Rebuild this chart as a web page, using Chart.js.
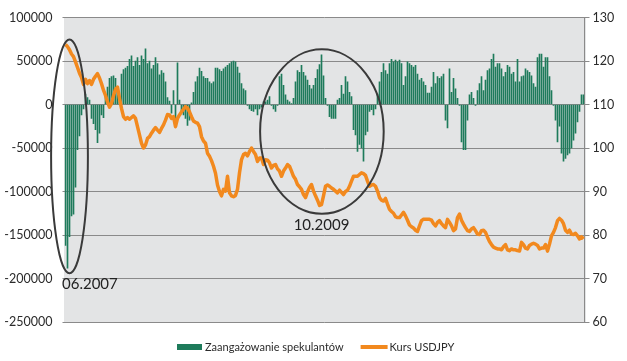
<!DOCTYPE html>
<html>
<head>
<meta charset="utf-8">
<script src="https://cdn.jsdelivr.net/npm/chart.js@4.4.1/dist/chart.umd.min.js"></script>
<style>
  html, body { margin: 0; padding: 0; background: #ffffff; }
  canvas { display: block; }
</style>
</head>
<body>
<canvas id="c" width="627" height="361"></canvas>
<script>
// ---- DATA ----
const startDate = new Date(Date.UTC(2007, 5, 8));
const categories = Array.from({ length: 260 }, (_, i) => {
  const d = new Date(startDate.getTime() + i * 7 * 86400000);
  return d.toISOString().slice(0, 10);
});

const speculators = [
  -162000, -188000, -152000, -128000, -126000, -95000, -52000, -36000, -12000, -5000,
  12000, 8000, 5000, -16000, -22000, -29000, -44000, -33000, -12000, -15000,
  10000, 20000, 30000, 32000, 33000, 30000, 20000, 3000, 35000, 40000,
  42000, 44000, 52000, 56000, 44000, 50000, 54000, 45000, 56000, 52000,
  64000, 47000, 50000, 41000, 45000, 54000, 47000, 34000, 39000, 36000,
  26000, 8000, 4000, -10000, 16000, -18000, 48000, 5000, -8000, -12000,
  -16000, -24000, -18000, 2000, 14000, 26000, 32000, 42000, 38000, 32000,
  30000, 30000, 26000, 24000, 26000, 42000, 42000, 40000, 38000, 41000,
  43000, 45000, 47000, 49000, 50000, 49000, 43000, 36000, 24000, 18000,
  16000, -1000, -5000, -7000, -8000, -5000, -12000, -5000, -3000, 3000,
  3000, 5000, 9000, -1000, -5000, -8000, -1000, 32000, 35000, 22000,
  11000, 5000, 3000, 1000, 7000, 26000, 39000, 37000, 45000, 37000,
  33000, 28000, 22000, 18000, 22000, 30000, 40000, 46000, 57000, 33000,
  7000, -1000, -14000, -16000, -16000, -16000, 5000, 7000, 22000, 12000,
  32000, 26000, 14000, 9000, -29000, -35000, -54000, -46000, -50000, -65000,
  -35000, -31000, -8000, -6000, -12000, -5000, 12000, 26000, 37000, 47000,
  39000, 35000, 47000, 52000, 49000, 51000, 49000, 51000, 47000, 22000,
  32000, 49000, 47000, 45000, 43000, 45000, 35000, 28000, 30000, 26000,
  22000, 13000, 13000, 20000, 37000, 24000, 32000, 30000, 32000, 35000,
  -18000, -27000, 41000, 14000, 30000, 18000, 7000, -1000, -43000, -52000,
  -52000, -18000, 11000, 14000, 7000, -1000, 16000, 24000, 32000, 16000,
  28000, 39000, 41000, 52000, 58000, 43000, 47000, 47000, 41000, 32000,
  37000, 45000, 43000, 35000, 37000, 26000, 52000, 26000, 32000, 33000,
  41000, 39000, 37000, 33000, 24000, 20000, 54000, 58000, 58000, 43000,
  54000, 54000, 32000, 16000, -1000, -18000, -43000, -25000, -56000, -65000,
  -62000, -58000, -56000, -50000, -41000, -33000, -20000, -8000, 11000, 11000
];

const usdjpy = [
  123.8, 123.3, 122.6, 121.6, 121.0, 119.8, 118.5, 117.2, 116.2, 114.6,
  115.8, 114.8, 115.5, 114.6, 115.8, 116.5, 117.1, 116.1, 114.8, 113.3,
  112.1, 110.6, 109.4, 110.2, 112.0, 113.5, 114.0, 111.4, 109.1, 107.2,
  106.6, 107.0, 106.6, 107.0, 107.4, 106.8, 104.9, 103.0, 101.1, 100.0,
  100.7, 102.2, 102.6, 103.4, 104.1, 104.7, 104.1, 103.6, 104.5, 105.3,
  106.4, 107.7, 107.6, 106.8, 107.2, 104.9, 106.8, 107.6, 108.3, 108.9,
  109.5, 109.2, 108.3, 107.2, 106.2, 105.9, 105.7, 104.9, 102.6, 101.6,
  101.1, 98.8, 98.1, 97.1, 95.8, 94.2, 91.5, 90.0, 89.0, 90.5,
  90.1, 93.5, 89.7, 89.0, 88.8, 89.1, 90.5, 94.3, 97.3, 98.5,
  98.8, 98.2, 99.2, 100.0, 99.2, 98.5, 96.9, 97.7, 97.7, 96.2,
  97.3, 97.2, 96.6, 95.4, 96.0, 96.2, 95.2, 94.7, 93.5, 94.7,
  95.4, 96.2, 95.8, 94.7, 93.5, 92.8, 91.6, 91.1, 90.5, 89.3,
  88.6, 89.9, 90.9, 91.6, 90.1, 89.0, 88.0, 86.8, 87.0, 89.0,
  91.2, 91.5, 91.2, 90.8, 90.5, 90.1, 89.7, 90.3, 89.8, 89.3,
  90.0, 90.3, 91.2, 92.4, 93.5, 93.5, 93.5, 93.9, 94.3, 94.1,
  93.7, 92.4, 91.2, 91.5, 91.6, 91.2, 90.1, 88.6, 88.0, 87.8,
  88.4, 87.1, 85.9, 85.4, 85.0, 84.2, 84.0, 84.0, 84.6, 85.2,
  84.4, 83.4, 82.3, 81.9, 81.6, 81.1, 80.8, 82.1, 83.3, 83.6,
  83.6, 83.6, 83.6, 83.4, 82.6, 82.1, 82.9, 83.3, 82.6, 82.1,
  81.7, 83.6, 82.9, 82.1, 81.0, 81.4, 84.0, 84.8, 83.4, 82.5,
  81.7, 81.0, 80.8, 81.4, 81.7, 81.0, 80.2, 80.1, 81.0, 81.1,
  80.6, 79.5, 78.5, 77.8, 77.2, 77.0, 76.8, 76.8, 76.6, 77.3,
  77.8, 76.6, 76.4, 76.8, 76.6, 76.6, 76.4, 76.3, 78.3, 77.8,
  77.0, 76.8, 77.6, 77.9, 78.1, 77.9, 77.6, 76.8, 77.0, 77.0,
  77.8, 76.3, 77.9, 79.8, 80.6, 81.7, 83.3, 83.8, 83.4, 82.6,
  81.1, 80.6, 81.1, 80.2, 80.1, 80.4, 79.8, 79.1, 79.6, 79.1
];

const leftTicks = [-250000, -200000, -150000, -100000, -50000, 0, 50000, 100000];
const rightTicks = [60, 70, 80, 90, 100, 110, 120, 130];
const seriesNames = ['Zaangażowanie spekulantów', 'Kurs USDJPY'];

// annotations in data units: [category index, left-axis value, radius in categories, radius in left-axis units]
const ellipseCenters = [[2, -59600], [128.2, -31100]];
const ellipseRadii = [[9.2, 134400], [30.9, 94500]];
const noteTexts = ['06.2007', '10.2009'];
const notePositions = [[12.2, -206000], [128, -139000]];

// ---- STYLE ----
const GREEN = '#1E7B5B';
const ORANGE = '#F2891E';
const GRID = '#8a8a8a';
const TEXT = '#2b2b2b';
const FONT = 'Lato, "Open Sans", sans-serif';

const bgPlugin = {
  id: 'plotBg',
  beforeDraw(chart) {
    const { ctx, chartArea: a } = chart;
    ctx.save();
    ctx.fillStyle = '#E3E4E5';
    const l = Math.floor(a.left), t = Math.round(a.top), r = Math.round(a.right + 1.5), b = Math.round(a.bottom);
    ctx.fillRect(l, t, r - l, b - t);
    ctx.restore();
  }
};

const notesPlugin = {
  id: 'notes',
  afterDatasetsDraw(chart) {
    const { ctx } = chart;
    const xs = chart.scales.x, ys = chart.scales.y;
    ctx.save();
    ctx.strokeStyle = '#3a3a3a';
    ctx.lineWidth = 2;
    ellipseCenters.forEach((c, k) => {
      const cx = xs.getPixelForValue(c[0]);
      const cy = ys.getPixelForValue(c[1]);
      const rx = Math.abs(xs.getPixelForValue(c[0] + ellipseRadii[k][0]) - cx);
      const ry = Math.abs(ys.getPixelForValue(c[1] + ellipseRadii[k][1]) - cy);
      ctx.beginPath();
      ctx.ellipse(cx, cy, rx, ry, 0, 0, Math.PI * 2);
      ctx.stroke();
    });
    ctx.fillStyle = '#222';
    ctx.font = '15px ' + FONT;
    ctx.textAlign = 'center';
    ctx.textBaseline = 'middle';
    noteTexts.forEach((t, k) => {
      ctx.fillText(t, xs.getPixelForValue(notePositions[k][0]), ys.getPixelForValue(notePositions[k][1]));
    });
    ctx.restore();
  }
};

const legendPlugin = {
  id: 'customLegend',
  afterDraw(chart) {
    const { ctx } = chart;
    ctx.save();
    ctx.font = '11px ' + FONT;
    ctx.textBaseline = 'middle';
    ctx.textAlign = 'left';
    const w1 = ctx.measureText(seriesNames[0]).width;
    const w2 = ctx.measureText(seriesNames[1]).width;
    const total = 25 + 3 + w1 + 17 + 27 + 2 + w2;
    let x = Math.round(316 - total / 2);
    const y = 347;
    ctx.fillStyle = GREEN;
    ctx.fillRect(x, y - 3, 25, 6);
    x += 28;
    ctx.fillStyle = TEXT;
    ctx.fillText(seriesNames[0], x, y);
    x += w1 + 17;
    ctx.strokeStyle = ORANGE;
    ctx.lineWidth = 4;
    ctx.beginPath();
    ctx.moveTo(x, y);
    ctx.lineTo(x + 27, y);
    ctx.stroke();
    x += 29;
    ctx.fillStyle = TEXT;
    ctx.fillText(seriesNames[1], x, y);
    ctx.restore();
  }
};

new Chart(document.getElementById('c'), {
  data: {
    labels: categories,
    datasets: [
      {
        type: 'bar',
        label: seriesNames[0],
        data: speculators,
        yAxisID: 'y',
        backgroundColor: GREEN,
        barThickness: 1,
        order: 1
      },
      {
        type: 'line',
        label: seriesNames[1],
        data: usdjpy,
        yAxisID: 'y1',
        borderColor: ORANGE,
        borderWidth: 3.5,
        pointRadius: 0,
        tension: 0,
        borderJoinStyle: 'round',
        order: 0
      }
    ]
  },
  options: {
    responsive: false,
    animation: false,
    devicePixelRatio: 1,
    layout: { padding: { left: 0, right: 0, top: 15, bottom: 39 } },
    plugins: { legend: { display: false }, tooltip: { enabled: false } },
    scales: {
      x: { type: 'category', display: false, offset: true, grid: { display: false } },
      y: {
        position: 'left',
        min: leftTicks[0],
        max: leftTicks[leftTicks.length - 1],
        afterBuildTicks: s => { s.ticks = leftTicks.map(v => ({ value: v })); },
        ticks: { color: TEXT, font: { family: FONT, size: 12.5 }, padding: 10, callback: v => String(v) },
        grid: { color: GRID, tickLength: 2 },
        border: { display: false },
        afterFit: s => { s.width = 64.5; }
      },
      y1: {
        position: 'right',
        min: rightTicks[0],
        max: rightTicks[rightTicks.length - 1],
        afterBuildTicks: s => { s.ticks = rightTicks.map(v => ({ value: v })); },
        ticks: { color: TEXT, font: { family: FONT, size: 12.5 }, padding: 3, callback: v => String(v) },
        grid: { drawOnChartArea: false, color: GRID, tickLength: 5 },
        border: { display: true, color: GRID },
        afterFit: s => { s.width = 42.5; }
      }
    }
  },
  plugins: [bgPlugin, notesPlugin, legendPlugin]
});
</script>
</body>
</html>
